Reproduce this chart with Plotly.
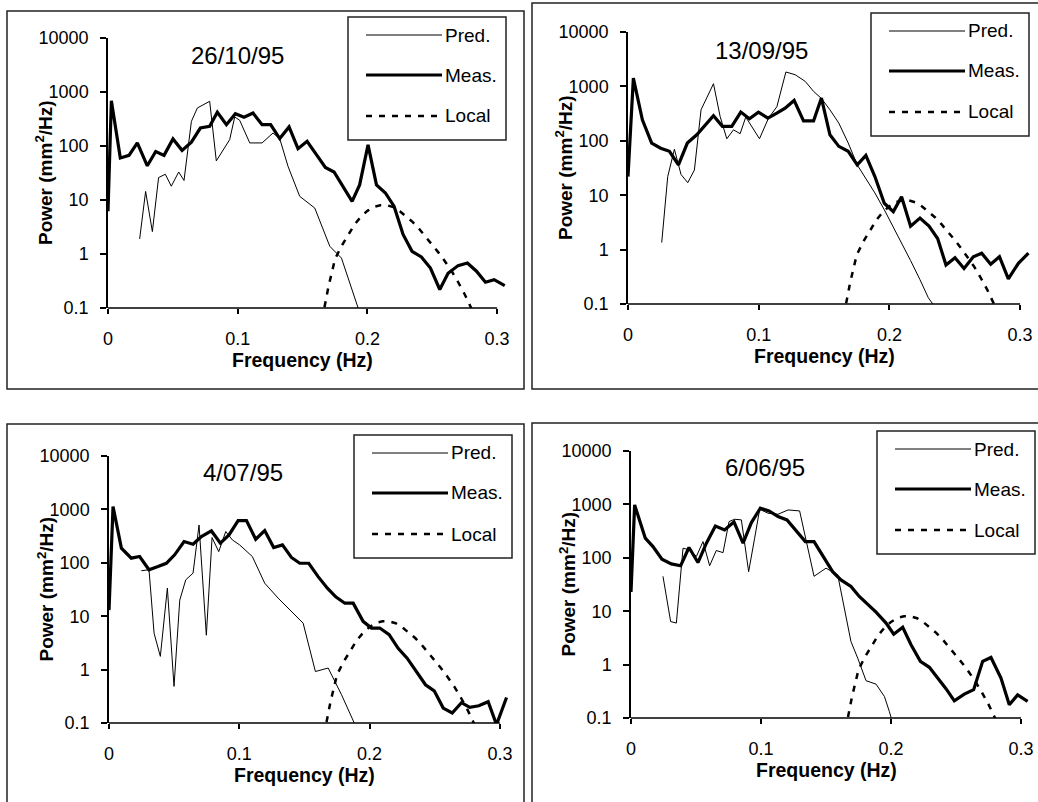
import plotly.graph_objects as go

W, H = 1038, 802
XMAX = 0.308

# ---- 26/10/95 ----
f_meas_a = [0, 0.0026, 0.0095, 0.0162, 0.0226, 0.0303, 0.0368, 0.0432, 0.0501, 0.0571,
            0.0643, 0.0712, 0.0784, 0.0843, 0.0913, 0.0982, 0.1049, 0.1118, 0.1188, 0.1254,
            0.1324, 0.1396, 0.1465, 0.1535, 0.1607, 0.1676, 0.1743, 0.1812, 0.1882, 0.194,
            0.2005, 0.207, 0.2139, 0.2206, 0.2275, 0.2344, 0.2416, 0.2486, 0.2558, 0.2622,
            0.2699, 0.2771, 0.2841, 0.291, 0.2977, 0.3059]
meas_a = [6.2, 690, 60, 67, 114, 43, 79, 67, 135, 83,
          118, 215, 231, 420, 248, 397, 340, 408, 248, 248,
          137, 225, 89, 122, 69, 40, 33, 18, 9.4, 19,
          105, 19, 13.5, 7.6, 2.3, 1.12, 0.88, 0.55, 0.22, 0.44,
          0.61, 0.68, 0.48, 0.30, 0.335, 0.26]
f_pred_a = [0.0244, 0.029, 0.0342, 0.039, 0.0442, 0.0488, 0.0545, 0.0586, 0.0643, 0.0689,
            0.0784, 0.0835, 0.0938, 0.0977, 0.1015, 0.1093, 0.1188, 0.1272, 0.1324, 0.1388,
            0.1478, 0.1594, 0.171, 0.18, 0.195]
pred_a = [1.9, 14.4, 2.6, 26, 30, 18, 33, 23, 286, 506,
          672, 53, 131, 345, 300, 114, 114, 174, 137, 42,
          11.7, 7.1, 1.39, 0.84, 0.07]

# ---- 13/09/95 ----
f_meas_b = [0, 0.0041, 0.011, 0.0181, 0.025, 0.0317, 0.0386, 0.0454, 0.0526, 0.059,
            0.0654, 0.0722, 0.0794, 0.0863, 0.0929, 0.0998, 0.107, 0.1139, 0.1202, 0.1271,
            0.1343, 0.142, 0.148, 0.1545, 0.1613, 0.1685, 0.1754, 0.182, 0.1889, 0.1961,
            0.203, 0.2093, 0.2162, 0.2234, 0.2303, 0.2369, 0.2433, 0.2502, 0.2571, 0.2642,
            0.2706, 0.2775, 0.2842, 0.291, 0.2987, 0.3064]
meas_b = [22, 1420, 244, 91, 73, 64, 36, 91, 129, 197,
          288, 184, 184, 337, 254, 337, 261, 323, 399, 552,
          233, 233, 610, 129, 79, 64, 36, 54, 22, 7.1,
          5.0, 9.4, 2.7, 3.8, 2.7, 1.6, 0.52, 0.71, 0.45, 0.74,
          0.86, 0.54, 0.74, 0.29, 0.56, 0.86]
f_pred_b = [0.0258, 0.0304, 0.0355, 0.0406, 0.0457, 0.0508, 0.0559, 0.0605, 0.0654, 0.0705,
            0.0756, 0.0807, 0.0858, 0.0901, 0.0955, 0.1006, 0.1075, 0.1139, 0.1208, 0.1279,
            0.1356, 0.142, 0.148, 0.1545, 0.1613, 0.1685, 0.1754, 0.1826, 0.1889, 0.1961,
            0.203, 0.2093, 0.2162, 0.2234, 0.2298, 0.2361]
pred_b = [1.35, 22, 70, 24, 17, 29, 372, 655, 1120, 280,
          109, 159, 135, 273, 171, 109, 261, 423, 1840, 1640,
          1236, 809, 600, 372, 211, 91, 36, 19, 11, 5.4,
          2.6, 1.4, 0.63, 0.28, 0.13, 0.08]

# ---- 4/07/95 ----
f_meas_c = [0, 0.0031, 0.0095, 0.0171, 0.0235, 0.0307, 0.0376, 0.044, 0.0504, 0.0576,
            0.0645, 0.0709, 0.0786, 0.0855, 0.0921, 0.0991, 0.1055, 0.1126, 0.1195, 0.1264,
            0.1331, 0.14, 0.1464, 0.1533, 0.1605, 0.1676, 0.174, 0.181, 0.1874, 0.195,
            0.2014, 0.2078, 0.215, 0.2219, 0.2288, 0.236, 0.2429, 0.2496, 0.2565, 0.2634,
            0.2705, 0.2769, 0.2838, 0.291, 0.2974, 0.3051]
meas_c = [13, 1130, 188, 122, 131, 74, 85, 98, 141, 250,
          223, 310, 395, 233, 333, 618, 618, 276, 401, 193,
          216, 126, 98, 98, 55, 33.5, 23, 17.5, 17.5, 8.0,
          6.0, 6.0, 4.5, 2.5, 1.64, 0.92, 0.52, 0.40, 0.19, 0.154,
          0.24, 0.196, 0.21, 0.25, 0.093, 0.30]
f_pred_c = [0.0248, 0.0307, 0.0346, 0.0394, 0.0448, 0.0499, 0.0543, 0.0589, 0.0645, 0.0691,
            0.0747, 0.0791, 0.0842, 0.0896, 0.0947, 0.1003, 0.11, 0.1195, 0.1298, 0.14,
            0.149, 0.1584, 0.1682, 0.1784, 0.19]
pred_c = [71, 74, 4.8, 1.77, 33.5, 0.485, 20, 48, 64, 510,
          4.4, 297, 162, 385, 268, 216, 131, 41.5, 21.8, 12.3,
          7.4, 0.92, 1.07, 0.34, 0.08]

# ---- 6/06/95 ----
f_meas_d = [0, 0.0028, 0.011, 0.0169, 0.0238, 0.031, 0.0382, 0.0446, 0.0515, 0.058,
            0.0649, 0.072, 0.0792, 0.0862, 0.0926, 0.0995, 0.1062, 0.1131, 0.12, 0.1267,
            0.1341, 0.1408, 0.1487, 0.1551, 0.1615, 0.1692, 0.1756, 0.182, 0.1885, 0.1962,
            0.2021, 0.209, 0.2154, 0.2226, 0.2295, 0.2359, 0.2423, 0.2487, 0.2564, 0.2636,
            0.2705, 0.2769, 0.2846, 0.291, 0.2974, 0.3051]
meas_d = [23, 977, 233, 162, 94, 77, 71, 156, 81.5, 188,
          395, 333, 470, 188, 457, 847, 755, 591, 513, 333,
          201, 201, 98, 55, 38.6, 29, 18.9, 13.6, 9.6, 6.0,
          3.7, 5.0, 2.35, 1.15, 0.89, 0.56, 0.354, 0.21, 0.28, 0.34,
          1.15, 1.36, 0.56, 0.177, 0.27, 0.205]
f_pred_d = [0.0246, 0.0305, 0.0349, 0.04, 0.0451, 0.0503, 0.0554, 0.0605, 0.0656, 0.0708,
            0.0754, 0.0797, 0.0849, 0.0905, 0.0951, 0.099, 0.1054, 0.1131, 0.1208, 0.1297,
            0.1408, 0.15, 0.159, 0.1692, 0.1744, 0.1808, 0.1885, 0.1949, 0.1987, 0.2038]
pred_d = [45, 6.4, 6.0, 151, 141, 106, 201, 71, 137, 125,
          477, 527, 513, 55, 233, 811, 683, 653, 787, 755,
          45, 64, 48, 2.7, 1.32, 0.5, 0.43, 0.254, 0.133, 0.05]

# local curve (same in every panel)
f_local = [0.165, 0.17, 0.175, 0.18, 0.185, 0.19, 0.195, 0.2, 0.205, 0.21,
           0.215, 0.22, 0.225, 0.23, 0.235, 0.24, 0.245, 0.25, 0.255, 0.26,
           0.265, 0.27, 0.275, 0.28, 0.285]
local = [0.06, 0.25, 0.8, 1.4, 2.2, 3.5, 4.9, 6.3, 7.5, 8.0,
         8.0, 7.4, 6.2, 5.0, 3.9, 2.9, 2.1, 1.5, 1.05, 0.72,
         0.48, 0.3, 0.18, 0.1, 0.055]

titles = ['26/10/95', '13/09/95', '4/07/95', '6/06/95']
legend_names = ['Pred.', 'Meas.', 'Local']
x_ticks = [0, 0.1, 0.2, 0.3]
x_ticktext = ['0', '0.1', '0.2', '0.3']
y_ticks = [0.1, 1, 10, 100, 1000, 10000]
y_ticktext = ['0.1', '1', '10', '100', '1000', '10000']

series = [(f_meas_a, meas_a, f_pred_a, pred_a),
          (f_meas_b, meas_b, f_pred_b, pred_b),
          (f_meas_c, meas_c, f_pred_c, pred_c),
          (f_meas_d, meas_d, f_pred_d, pred_d)]

# pixel geometry of each panel: x of f=0, px per Hz, y of 0.1, y of 10000
geom = [(108, 1297, 308, 38), (628, 1307, 304, 32), (109, 1303, 723, 456), (631, 1300, 718, 451)]
frames = [(7, 11, 524, 389), (532, 3, 1045, 389), (7, 424, 524, 810), (532, 423, 1045, 810)]
legend_pos = [(348, 17), (871, 13), (354, 435), (877, 431)]
title_pos = [(237, 55), (761, 50), (243, 472), (765, 468)]

FONT = 'Liberation Sans, Arial, sans-serif'


def px(x):
    return x / W


def py(y):
    return 1 - y / H


def label(text, x, y, size, **kw):
    return dict(text=text, x=x, y=y, showarrow=False, xanchor=kw.pop('xanchor', 'center'),
                yanchor='middle', font=dict(size=size), **kw)


fig = go.Figure()
layout = dict(width=W, height=H, margin=dict(l=0, r=0, t=0, b=0, autoexpand=False),
              paper_bgcolor='white', plot_bgcolor='rgba(0,0,0,0)',
              font=dict(family=FONT, color='black'), showlegend=False)
shapes = []
annotations = []

for i, (fm, m, fp, p) in enumerate(series, start=1):
    x0, kx, yb, yt = geom[i - 1]
    xs = '' if i == 1 else str(i)
    xa, ya = 'x' + xs, 'y' + xs
    fig.add_trace(go.Scatter(x=fp, y=p, mode='lines', name='Pred.', xaxis=xa, yaxis=ya,
                             line=dict(color='black', width=1)))
    fig.add_trace(go.Scatter(x=fm, y=m, mode='lines', name='Meas.', xaxis=xa, yaxis=ya,
                             line=dict(color='black', width=3.2)))
    fig.add_trace(go.Scatter(x=f_local, y=local, mode='lines', name='Local', xaxis=xa, yaxis=ya,
                             line=dict(color='black', width=2.5, dash='6px,7px')))

    xdom = [px(x0), px(x0 + XMAX * kx)]
    ydom = [py(yb), py(yt)]
    layout['xaxis' + xs] = dict(domain=xdom, range=[0, XMAX], anchor=ya,
                                tickvals=x_ticks, ticktext=x_ticktext, ticks='outside',
                                ticklen=5, tickwidth=1.5, tickcolor='black',
                                showline=False, showgrid=False, zeroline=False,
                                tickfont=dict(size=18), ticklabelstandoff=9)
    layout['yaxis' + xs] = dict(domain=ydom, type='log', range=[-1, 4], anchor=xa,
                                tickvals=y_ticks, ticktext=y_ticktext, ticks='outside',
                                ticklen=6, tickwidth=1.5, tickcolor='black',
                                showline=True, linecolor='black', linewidth=1.5,
                                showgrid=False, zeroline=False,
                                tickfont=dict(size=18), ticklabelstandoff=8)
    # inner half of the crossing tick marks
    layout['xaxis' + str(i + 4)] = dict(domain=xdom, range=[0, XMAX], anchor=ya, overlaying=xa,
                                        tickvals=x_ticks, ticks='inside', ticklen=5, tickwidth=1.5,
                                        tickcolor='black', showticklabels=False,
                                        showgrid=False, zeroline=False, showline=False)
    layout['yaxis' + str(i + 4)] = dict(domain=ydom, type='log', range=[-1, 4], anchor=xa,
                                        overlaying=ya, tickvals=y_ticks, ticks='inside', ticklen=6,
                                        tickwidth=1.5, tickcolor='black', showticklabels=False,
                                        showgrid=False, zeroline=False, showline=False)
    # x axis line stops at 0.3
    shapes.append(dict(type='line', xref=xa, yref=ya + ' domain', x0=0, x1=0.3, y0=0, y1=0,
                       line=dict(color='black', width=1.5)))

    # panel frame
    fx0, fy0, fx1, fy1 = frames[i - 1]
    shapes.append(dict(type='rect', xref='paper', yref='paper', x0=px(fx0), x1=px(fx1),
                       y0=py(fy1), y1=py(fy0), line=dict(color='#222', width=1.5)))

    # axis titles
    annotations.append(label('<b>Frequency (Hz)</b>', 0.15, py(yb + 52), 19.5,
                             xref=xa, yref='paper'))
    annotations.append(label('<b>Power (mm<sup>2</sup>/Hz)</b>', px(x0 - 64), py((yb + yt) / 2), 19,
                             xref='paper', yref='paper', textangle=-90))
    # panel date
    tx, ty = title_pos[i - 1]
    annotations.append(label(titles[i - 1], px(tx), py(ty), 24, xref='paper', yref='paper'))

    # legend box
    lx, ly = legend_pos[i - 1]
    shapes.append(dict(type='rect', xref='paper', yref='paper', x0=px(lx), x1=px(lx + 158),
                       y0=py(ly + 123), y1=py(ly), line=dict(color='#222', width=1.5),
                       fillcolor='white', layer='above'))
    styles = [dict(width=1), dict(width=3.2), dict(width=2.5, dash='6px,7px')]
    for k, name in enumerate(legend_names):
        yy = ly + [18, 58, 99][k]
        shapes.append(dict(type='line', xref='paper', yref='paper', x0=px(lx + 18), x1=px(lx + 94),
                           y0=py(yy), y1=py(yy), line=dict(color='black', **styles[k])))
        annotations.append(label(name, px(lx + 95), py(yy), 19, xref='paper', yref='paper',
                                 xanchor='left'))

layout['shapes'] = shapes
layout['annotations'] = annotations
fig.update_layout(**layout)
fig.write_html("out.html", config={'displayModeBar': False},
               post_script="document.body.style.margin='0px';")
